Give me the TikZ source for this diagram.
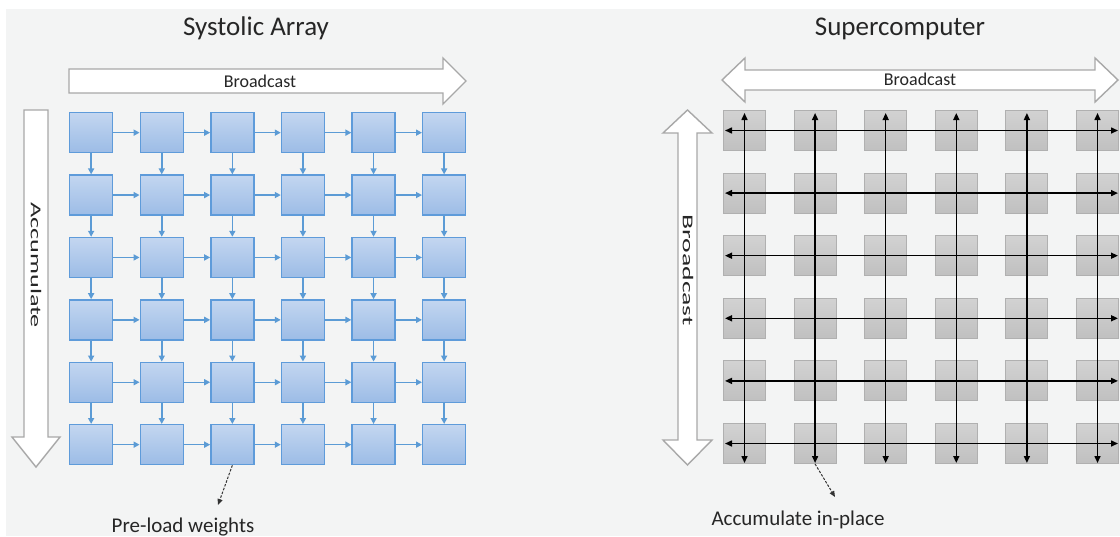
\documentclass[tikz,border=0pt]{standalone}
\usepackage{fontspec}
\setmainfont{Carlito}
\usetikzlibrary{arrows.meta}
\definecolor{bgc}{HTML}{F3F4F4}
\definecolor{txt}{HTML}{262626}
\definecolor{bluetop}{HTML}{C3D6F0}
\definecolor{bluebot}{HTML}{9CBCE6}
\definecolor{blueline}{HTML}{5E9BDA}
\definecolor{bluearr}{HTML}{5B9BD5}
\definecolor{graytop}{HTML}{D2D2D2}
\definecolor{graybot}{HTML}{C0C0C0}
\definecolor{grayline}{HTML}{B0B0B0}
\definecolor{bigarr}{HTML}{A8A8A8}
\tikzset{
  bsq/.style={draw=blueline, line width=1.3pt, top color=bluetop, bottom color=bluebot,
    minimum width=43pt, minimum height=40pt, inner sep=0pt, anchor=north west},
  gsq/.style={draw=grayline, line width=1pt, top color=graytop, bottom color=graybot,
    minimum width=42pt, minimum height=40pt, inner sep=0pt, anchor=north west},
  barr/.style={draw=bluearr, line width=1.5pt, -{Triangle[length=6pt,width=6pt]}},
  karr/.style={draw=black, line width=1.5pt, {Triangle[length=7pt,width=6pt]}-{Triangle[length=7pt,width=6pt]}},
  bigarrow/.style={draw=bigarr, line width=1.4pt, fill=white, line join=miter},
  lbl/.style={text=txt, inner sep=0pt},
  darr/.style={draw=black!80, line width=1pt, dash pattern=on 2.5pt off 1.5pt, -{Triangle[length=6pt,width=5pt]}},
}
\begin{document}
\begin{tikzpicture}[x=1pt,y=-1pt]
\useasboundingbox (0,0) rectangle (1120,536);
\fill[white] (0,0) rectangle (1120,536);
\fill[bgc] (6,9) rectangle (1120,536);

% Titles
\node[lbl, anchor=base, font=\fontsize{27}{30}\selectfont] (t1) at (256,35) {Systolic Array};
\node[lbl, anchor=base, font=\fontsize{27}{30}\selectfont] (t2) at (900,35) {Supercomputer};

% Left big arrows
\draw[bigarrow] (69,69) -- (443,69) -- (443,58) -- (466,81) -- (443,104) -- (443,93) -- (69,93) -- cycle;
\node[lbl, anchor=base, font=\fontsize{18}{20}\selectfont] (bc1) at (260,87) {Broadcast};
\draw[bigarrow] (24,110) -- (48,110) -- (48,437) -- (60,437) -- (36,467) -- (12,437) -- (24,437) -- cycle;
\node[lbl, rotate=-90, font=\fontsize{15}{18}\selectfont] (acc) at (36,265) {\scalebox{1.75}[1]{Accumulate}};

% Right big arrows
\draw[bigarrow] (745,70) -- (1095,70) -- (1095,58) -- (1118,80) -- (1095,102) -- (1095,90) -- (745,90) -- (745,102) -- (722,80) -- (745,58) -- cycle;
\node[lbl, anchor=base, font=\fontsize{18}{20}\selectfont] (bc2) at (920,85) {Broadcast};
\draw[bigarrow] (678,133) -- (663,133) -- (687.5,110) -- (712,133) -- (697,133) -- (697,440) -- (712,440) -- (687.5,465) -- (663,440) -- (678,440) -- cycle;
\node[lbl, rotate=-90, font=\fontsize{15}{18}\selectfont] (bc3) at (688,270) {\scalebox{1.85}[1]{Broadcast}};

% Blue grid
\foreach \r in {1,...,6} {
  \foreach \c in {1,...,6} {
    \node[bsq] (b-\r-\c) at ({69+70.6*(\c-1)},{112+62.4*(\r-1)}) {};
  }
}
\foreach \r in {1,...,6} {
  \foreach \c [evaluate=\c as \n using int(\c+1)] in {1,...,5} {
    \draw[barr] (b-\r-\c.east) -- (b-\r-\n.west);
  }
}
\foreach \r [evaluate=\r as \n using int(\r+1)] in {1,...,5} {
  \foreach \c in {1,...,6} {
    \draw[barr] (b-\r-\c.south) -- (b-\n-\c.north);
  }
}

% Gray grid
\foreach \r in {1,...,6} {
  \foreach \c in {1,...,6} {
    \node[gsq] (g-\r-\c) at ({723+70.6*(\c-1)},{110+62.6*(\r-1)}) {};
  }
}
\foreach \c in {1,...,6} {
  \draw[karr] ([yshift=1pt]g-6-\c.south) -- ([yshift=-3pt]g-1-\c.north);
}
\foreach \r in {1,...,6} {
  \draw[karr] ([xshift=2pt]g-\r-1.west) -- ([xshift=-1pt]g-\r-6.east);
}

% Dashed pointers and labels
\coordinate (p1) at (218,505);
\draw[darr] (b-6-3.south) -- (p1);
\node[lbl, anchor=base, font=\fontsize{21}{24}\selectfont] (pl) at (183,532) {Pre-load weights};
\coordinate (p2) at (835,497);
\draw[darr] (g-6-2.south) -- (p2);
\node[lbl, anchor=base, font=\fontsize{21}{24}\selectfont] (ai) at (798,525) {Accumulate in-place};
\end{tikzpicture}
\end{document}
